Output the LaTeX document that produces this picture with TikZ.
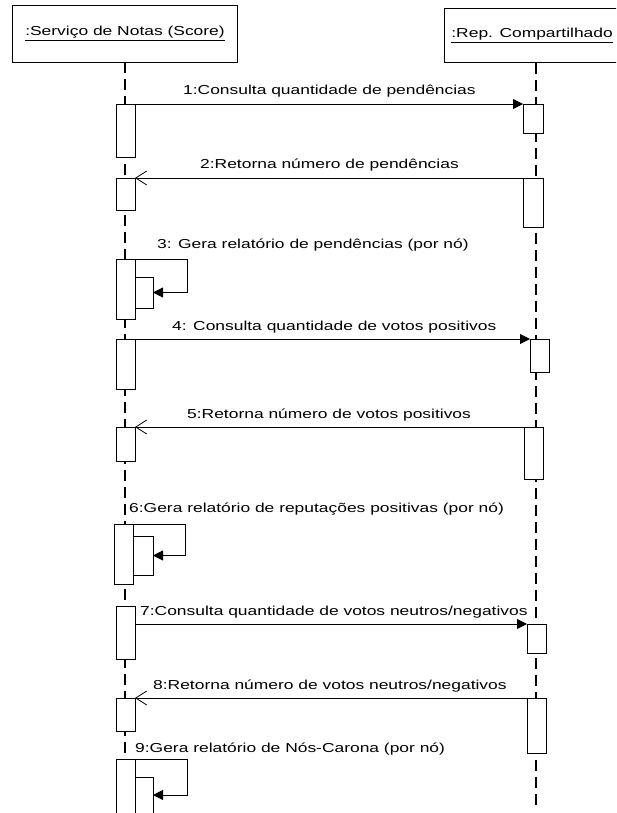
\documentclass[tikz,border=0pt]{standalone}
\usepackage{fontspec}
\setmainfont[FakeStretch=1.34]{Liberation Sans}
\usetikzlibrary{arrows.meta}
\newcommand\lblfont{\fontsize{13}{15}\selectfont}
\tikzset{
  obj/.style={draw, line width=0.8pt, fill=white, inner xsep=13pt, inner ysep=0pt, font=\lblfont},
  life/.style={line width=2.6pt, dash pattern=on 11pt off 6pt},
  bar/.style={draw, line width=0.8pt, fill=white, minimum width=19pt, inner sep=0pt, outer sep=0pt, anchor=north west},
  call/.style={line width=0.8pt, -{Triangle[length=10pt,width=10pt]}},
  reply/.style={line width=0.8pt, -{Straight Barb[length=11pt,width=14pt,line width=0.8pt]}},
  lbl/.style={anchor=base west, inner sep=0pt, font=\lblfont},
}
\begin{document}
\begin{tikzpicture}[x=1pt,y=-1pt]
\useasboundingbox (0,0) rectangle (616,813);
\clip (0,0) rectangle (616,813);

% objects
\node[obj, minimum width=224pt, minimum height=57pt] (lbox) at (125,33.5) {\underline{:Serviço de Notas (Score)}};
\node[obj, inner xsep=7pt, text width=175pt, align=left, minimum height=54pt, anchor=north west] (rbox) at (444,8) {\underline{:Rep. Compartilhado}};

% lifelines
\coordinate (lend) at (125,813);
\coordinate (rend) at (536,808);
\draw[life] (lbox.south) -- (lend);
\draw[life] (rbox.south -| rend) -- (rend);

% activation bars
\node[bar, minimum height=53pt] (L1) at (116,104) {};
\node[bar, minimum width=20pt, minimum height=29pt] (R1) at (523,104) {};
\node[bar, minimum height=32pt] (L2) at (116,178) {};
\node[bar, minimum width=20pt, minimum height=49pt] (R2) at (523,178) {};
\node[bar, minimum height=60pt] (L3) at (116,259) {};
\node[bar, minimum width=18pt, minimum height=31pt] (N3) at (135,277) {};
\node[bar, minimum height=50pt] (L4) at (116,339) {};
\node[bar, minimum height=33pt] (R4) at (530,339) {};
\node[bar, minimum height=34pt] (L5) at (116,427) {};
\node[bar, minimum height=52pt] (R5) at (524,427) {};
\node[bar, minimum height=60pt] (L6) at (114,524) {};
\node[bar, minimum width=20pt, minimum height=39pt] (N6) at (133,536) {};
\node[bar, minimum height=53pt] (L7) at (116,606) {};
\node[bar, minimum height=29pt] (R7) at (527,624) {};
\node[bar, minimum height=33pt] (L8) at (116,698) {};
\node[bar, minimum height=55pt] (R8) at (527,698) {};
\node[bar, minimum height=60pt] (L9) at (116,759) {};
\node[bar, minimum width=18pt, minimum height=36pt] (N9) at (135,777) {};

% messages
\draw[call] (L1.north east) -- (R1.north west);
\draw[reply] (R2.north west) -- (L2.north east);
\draw[call] (L3.north east) -- ++(52,0) |- (N3.east);
\draw[call] (L4.north east) -- (R4.north west);
\draw[reply] (R5.north west) -- (L5.north east);
\draw[call] (L6.north east) -- ++(52,0) |- (N6.east);
\draw[call] (R7.north west -| L7.east) -- (R7.north west);
\draw[reply] (R8.north west) -- (L8.north east);
\draw[call] (L9.north east) -- ++(52,0) |- (N9.east);

% message labels
\node[lbl] (t1) at (183,95) {1:Consulta quantidade de pendências};
\node[lbl] (t2) at (200,169) {2:Retorna número de pendências};
\node[lbl] (t3) at (157,248) {3: Gera relatório de pendências (por nó)};
\node[lbl] (t4) at (172,330) {4: Consulta quantidade de votos positivos};
\node[lbl] (t5) at (187,418) {5:Retorna número de votos positivos};
\node[lbl] (t6) at (129,512) {6:Gera relatório de reputações positivas (por nó)};
\node[lbl] (t7) at (140,615) {7:Consulta quantidade de votos neutros/negativos};
\node[lbl] (t8) at (153,689) {8:Retorna número de votos neutros/negativos};
\node[lbl] (t9) at (135,752) {9:Gera relatório de Nós-Carona (por nó)};
\end{tikzpicture}
\end{document}
